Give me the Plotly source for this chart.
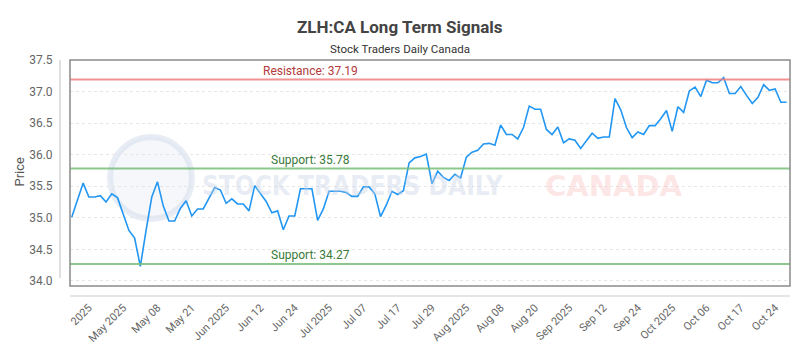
import plotly.graph_objects as go

prices = [
    35.01, 35.28, 35.55, 35.33, 35.33, 35.35, 35.25, 35.38, 35.32, 35.06,
    34.80, 34.68, 34.23, 34.80, 35.33, 35.57, 35.19, 34.95, 34.95, 35.15,
    35.27, 35.03, 35.14, 35.14, 35.31, 35.48, 35.44, 35.23, 35.30, 35.22,
    35.22, 35.11, 35.51, 35.39, 35.26, 35.08, 35.11, 34.81, 35.03, 35.03,
    35.46, 35.46, 35.46, 34.96, 35.14, 35.42, 35.42, 35.42, 35.40, 35.34,
    35.34, 35.49, 35.49, 35.38, 35.02, 35.20, 35.42, 35.37, 35.43, 35.87,
    35.95, 35.97, 36.01, 35.54, 35.74, 35.64, 35.59, 35.69, 35.63, 35.96,
    36.04, 36.07, 36.17, 36.18, 36.15, 36.47, 36.32, 36.32, 36.25, 36.43,
    36.77, 36.72, 36.72, 36.40, 36.32, 36.44, 36.19, 36.25, 36.23, 36.10,
    36.22, 36.34, 36.26, 36.28, 36.28, 36.89, 36.71, 36.43, 36.27, 36.36,
    36.32, 36.46, 36.46, 36.57, 36.70, 36.37, 36.76, 36.67, 37.01, 37.07,
    36.92, 37.18, 37.14, 37.14, 37.22, 36.97, 36.97, 37.08, 36.94, 36.81,
    36.91, 37.11, 37.02, 37.04, 36.83, 36.83,
]
x_idx = list(range(len(prices)))

tick_index = [3, 9, 15, 21, 27, 33, 39, 45, 51, 57, 63, 69, 75, 81, 87, 93, 99, 105, 111, 117, 123]
tick_labels = ["2025", "May 2025", "May 08", "May 21", "Jun 2025", "Jun 12", "Jun 24",
               "Jul 2025", "Jul 07", "Jul 17", "Jul 29", "Aug 2025", "Aug 08", "Aug 20",
               "Sep 2025", "Sep 12", "Sep 24", "Oct 2025", "Oct 06", "Oct 17", "Oct 24"]

resistance = 37.19
supports = [35.78, 34.27]

FONT = "Roboto"
fig = go.Figure()
fig.add_trace(go.Scatter(x=x_idx, y=prices, mode="lines",
                         line=dict(color="#2196f3", width=1.6), hoverinfo="skip",
                         showlegend=False))

shapes = []
# watermark logo
shapes.append(dict(type="circle", xref="paper", yref="paper",
                   x0=(110 - 70) / 720, x1=(192 - 70) / 720,
                   y0=(286 - 219) / 226, y1=(286 - 137) / 226,
                   line=dict(color="rgba(205,215,232,0.45)", width=6),
                   fillcolor="rgba(225,232,243,0.35)", layer="below"))
# resistance / support lines
shapes.append(dict(type="line", xref="paper", yref="y", x0=0, x1=1, y0=resistance, y1=resistance,
                   line=dict(color="rgba(240,128,128,0.85)", width=2)))
for s in supports:
    shapes.append(dict(type="line", xref="paper", yref="y", x0=0, x1=1, y0=s, y1=s,
                       line=dict(color="rgba(120,190,120,0.85)", width=2)))
# plot border
shapes.append(dict(type="rect", xref="paper", yref="paper", x0=0, x1=1, y0=0, y1=1,
                   line=dict(color="#8a8a8a", width=1.5)))
# detached axis lines
shapes.append(dict(type="line", xref="paper", yref="paper", x0=0, x1=1,
                   y0=-10 / 226, y1=-10 / 226, line=dict(color="#cccccc", width=1.2)))
shapes.append(dict(type="line", xref="paper", yref="paper", x0=-10 / 720, x1=-10 / 720,
                   y0=(286 - 278) / 226, y1=1, line=dict(color="#cccccc", width=1.2)))

annotations = [
    dict(text="<b>ZLH:CA Long Term Signals</b>", xref="paper", yref="paper",
         x=(400 - 70) / 720, y=(286 - 15) / 226, showarrow=False,
         font=dict(family=FONT, size=17, color="#444444")),
    dict(text="Stock Traders Daily Canada", xref="paper", yref="paper",
         x=(400 - 70) / 720, y=(286 - 40) / 226, showarrow=False,
         font=dict(family=FONT, size=11.5, color="#333333")),
    dict(text="Price", xref="paper", yref="paper", x=(9 - 70) / 720, y=(286 - 172) / 226,
         textangle=-90, showarrow=False, font=dict(family=FONT, size=13, color="#555555")),
    dict(text="<b>STOCK TRADERS DAILY</b>", xref="paper", yref="paper",
         x=(200 - 70) / 720, y=(286 - 186) / 226, xanchor="left", showarrow=False,
         font=dict(family="DejaVu Sans Condensed", size=26, color="rgba(200,210,228,0.42)")),
    dict(text="<b>CANADA</b>", xref="paper", yref="paper",
         x=(543 - 70) / 720, y=(286 - 186) / 226, xanchor="left", showarrow=False,
         font=dict(family="DejaVu Sans", size=29, color="rgba(250,190,190,0.4)")),
    dict(text=f"Resistance: {resistance:.2f}", xref="paper", yref="y",
         x=(261 - 70) / 720, y=resistance, xanchor="left", yanchor="bottom", yshift=0,
         showarrow=False, font=dict(family=FONT, size=12, color="#b23a3a")),
]
for s in supports:
    annotations.append(dict(text=f"Support: {s:.2f}", xref="paper", yref="y",
                            x=(269 - 70) / 720, y=s, xanchor="left", yanchor="bottom",
                            yshift=0, showarrow=False,
                            font=dict(family=FONT, size=12, color="#3a7a3a")))

fig.update_layout(
    width=800, height=350,
    margin=dict(l=70, r=10, t=60, b=64, autoexpand=False),
    paper_bgcolor="white", plot_bgcolor="white",
    shapes=shapes, annotations=annotations,
    showlegend=False,
    xaxis=dict(range=[-0.3, 125.6], tickmode="array", tickvals=tick_index, ticktext=tick_labels,
               tickangle=-45, showgrid=False, zeroline=False, showline=False, automargin=False,
               ticks="outside", ticklen=10, tickcolor="rgba(0,0,0,0)",
               tickfont=dict(family=FONT, size=11, color="#666666")),
    yaxis=dict(range=[33.92, 37.5], tickvals=[34.0, 34.5, 35.0, 35.5, 36.0, 36.5, 37.0, 37.5],
               ticktext=["34.0", "34.5", "35.0", "35.5", "36.0", "36.5", "37.0", "37.5"],
               showgrid=True, gridcolor="#e6e6e6", griddash="dot", gridwidth=1,
               zeroline=False, showline=False, automargin=False,
               ticks="outside", ticklen=14, tickcolor="rgba(0,0,0,0)",
               tickfont=dict(family=FONT, size=12, color="#666666")),
)

fig.write_html("out.html")
